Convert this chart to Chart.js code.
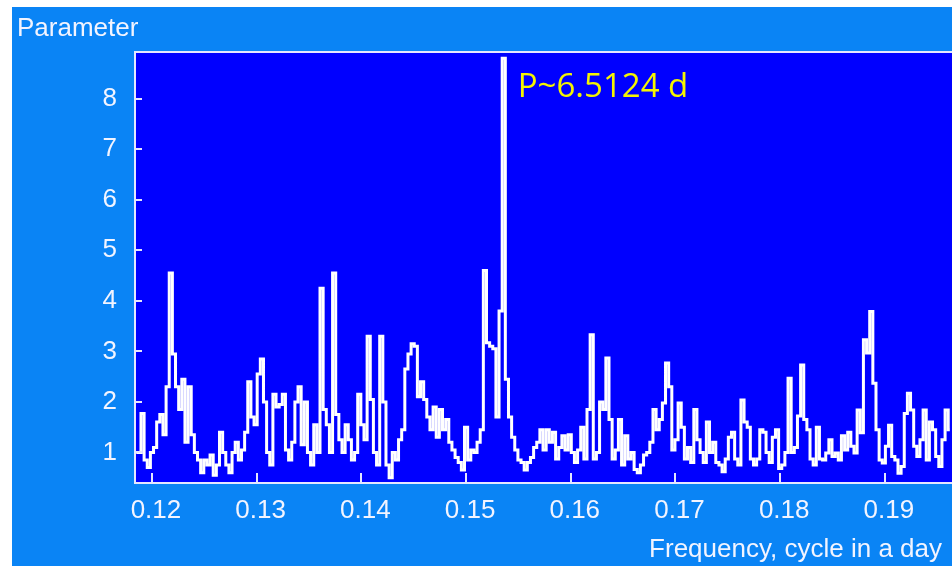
<!DOCTYPE html>
<html>
<head>
<meta charset="utf-8">
<script src="https://cdn.jsdelivr.net/npm/chart.js@4/dist/chart.umd.min.js"></script>
<style>
  html, body { margin: 0; padding: 0; background: #fff; }
  #wrap { position: absolute; left: 12px; top: 7px; width: 940px; height: 559px; background: #0a84f5; overflow: hidden; }
  canvas { display: block; }
</style>
</head>
<body>
<div id="wrap"><canvas id="c"></canvas></div>
<script>
// periodogram grid (cycles per day)
const F_START = 0.1185;
const F_STEP = 0.0003;
// power, one value per grid step
const POWER = [
  1.0, 1.0, 1.77, 0.85, 0.7, 1.0, 1.1, 1.6, 1.75, 1.35,
  2.3, 4.55, 2.95, 2.3, 1.85, 2.45, 1.2, 2.3, 1.35, 1.0,
  0.85, 0.6, 0.85, 0.75, 0.95, 0.55, 0.75, 1.4, 1.0, 0.75,
  0.6, 1.0, 1.2, 0.85, 1.05, 1.4, 2.4, 1.7, 1.55, 2.55,
  2.85, 2.0, 1.0, 0.75, 2.15, 1.9, 1.95, 2.15, 1.05, 0.85,
  1.2, 2.0, 2.3, 1.15, 2.0, 1.0, 0.75, 1.55, 1.0, 4.25,
  1.85, 1.55, 1.0, 4.55, 1.75, 1.25, 1.0, 1.55, 1.25, 0.85,
  1.0, 2.15, 1.55, 1.25, 3.3, 2.05, 1.0, 0.75, 3.3, 2.0,
  0.75, 0.5, 1.0, 0.85, 1.25, 1.45, 2.65, 2.95, 3.15, 3.1,
  2.1, 2.4, 2.05, 1.7, 1.45, 1.9, 1.3, 1.85, 1.45, 1.65,
  1.2, 1.05, 0.9, 0.8, 0.65, 1.5, 0.85, 1.05, 1.0, 1.2,
  1.45, 4.6, 3.17, 3.1, 3.05, 1.7, 3.8, 8.8, 2.45, 1.7,
  1.3, 1.05, 0.85, 0.8, 0.65, 0.8, 0.9, 1.1, 1.2, 1.45,
  1.05, 1.45, 1.2, 1.4, 0.87, 1.1, 1.33, 1.05, 1.35, 1.0,
  0.8, 1.05, 1.5, 0.87, 1.85, 3.33, 0.87, 1.0, 2.0, 1.85,
  2.87, 1.65, 0.87, 1.05, 1.65, 0.75, 1.33, 0.87, 1.0, 0.66,
  0.6, 0.75, 0.95, 1.0, 1.2, 1.85, 1.45, 1.65, 1.98, 2.77,
  2.3, 1.05, 1.25, 1.98, 1.5, 0.87, 1.1, 0.8, 1.85, 1.25,
  1.0, 0.8, 1.6, 1.0, 1.2, 0.8, 0.75, 0.62, 0.87, 1.3,
  1.4, 0.87, 0.75, 2.04, 1.6, 1.5, 0.87, 0.75, 0.87, 1.45,
  1.4, 1.0, 0.8, 1.3, 1.45, 0.68, 0.75, 1.0, 2.47, 1.0,
  1.1, 1.72, 2.73, 1.65, 1.45, 0.87, 0.75, 1.5, 0.87, 0.85,
  0.99, 1.25, 0.92, 0.99, 0.85, 1.33, 1.05, 1.4, 1.12, 0.99,
  1.84, 1.39, 3.23, 2.97, 3.79, 2.37, 1.45, 0.85, 0.79, 1.12,
  1.54, 0.92, 0.85, 0.59, 0.72, 1.77, 2.17, 1.84, 1.12, 0.92,
  1.25, 1.84, 0.85, 1.6, 1.45, 0.92, 0.72, 1.25, 1.84, 1.45
];
const X_TICKS = [0.12, 0.13, 0.14, 0.15, 0.16, 0.17, 0.18, 0.19];
const Y_TICKS = [1, 2, 3, 4, 5, 6, 7, 8];
const Y_TITLE = 'Parameter';
const X_TITLE = 'Frequency, cycle in a day';
const PEAK_LABEL = 'P~6.5124 d';
const PEAK_FREQ = 0.1536;

const PLOT_BG = '#0000ff';
const FRAME = '#e4e6ff';
const TEXT = '#f2f4ff';
const LABEL_FONT = "26px 'Liberation Sans', Arial, sans-serif";

const points = POWER.map((p, i) => ({ x: F_START + i * F_STEP, y: p }));

const framePlugin = {
  id: 'frame',
  beforeDatasetsDraw(chart) {
    const { ctx, chartArea: a } = chart;
    ctx.save();
    ctx.fillStyle = PLOT_BG;
    ctx.fillRect(a.left, a.top, a.right - a.left, a.bottom - a.top);
    ctx.restore();
  },
  afterDraw(chart) {
    const { ctx, chartArea: a, scales } = chart;
    ctx.save();
    ctx.strokeStyle = FRAME;
    ctx.lineWidth = 2;
    ctx.beginPath();
    ctx.moveTo(a.right + 2, a.top);
    ctx.lineTo(a.left, a.top);
    ctx.lineTo(a.left, a.bottom);
    ctx.lineTo(a.right + 2, a.bottom);
    ctx.stroke();
    // inward tick marks
    ctx.beginPath();
    X_TICKS.forEach(v => {
      const px = Math.round(scales.x.getPixelForValue(v));
      ctx.moveTo(px, a.bottom);
      ctx.lineTo(px, a.bottom - 10);
    });
    Y_TICKS.forEach(v => {
      const py = Math.round(scales.y.getPixelForValue(v));
      ctx.moveTo(a.left, py);
      ctx.lineTo(a.left + 7, py);
    });
    ctx.stroke();

    ctx.fillStyle = TEXT;
    ctx.font = LABEL_FONT;
    ctx.textBaseline = 'alphabetic';
    ctx.textAlign = 'left';
    ctx.fillText(Y_TITLE, 5, 29);
    ctx.textAlign = 'right';
    ctx.fillText(X_TITLE, 930, 550);

    ctx.fillStyle = '#f5f500';
    ctx.font = "33px 'Open Sans', 'Noto Sans', sans-serif";
    ctx.textAlign = 'left';
    ctx.fillText(PEAK_LABEL, scales.x.getPixelForValue(PEAK_FREQ) + 14, a.top + 45);
    ctx.restore();
  }
};

new Chart(document.getElementById('c'), {
  type: 'line',
  data: {
    datasets: [{
      data: points,
      borderColor: '#ffffff',
      borderWidth: 3,
      pointRadius: 0,
      stepped: 'middle',
      fill: false
    }]
  },
  options: {
    responsive: true,
    maintainAspectRatio: false,
    animation: false,
    events: [],
    layout: { padding: { top: 45, right: 0, left: 0, bottom: 0 } },
    plugins: { legend: { display: false }, tooltip: { enabled: false } },
    scales: {
      x: {
        type: 'linear',
        min: 0.11838,
        max: 0.19641,
        afterFit: s => { s.height = 83; },
        afterBuildTicks: s => { s.ticks = X_TICKS.map(v => ({ value: v })); },
        grid: { display: false, drawTicks: false },
        border: { display: false },
        ticks: {
          color: TEXT,
          font: { family: "'Liberation Sans', Arial, sans-serif", size: 26 },
          padding: 12,
          labelOffset: 4,
          maxRotation: 0,
          autoSkip: false,
          callback: v => v.toFixed(2)
        }
      },
      y: {
        min: 0.395,
        max: 8.925,
        afterFit: s => { s.width = 123; },
        afterBuildTicks: s => { s.ticks = Y_TICKS.map(v => ({ value: v })); },
        grid: { display: false, drawTicks: false },
        border: { display: false },
        ticks: {
          color: TEXT,
          font: { family: "'Liberation Sans', Arial, sans-serif", size: 26 },
          padding: 18,
          callback: v => String(v)
        }
      }
    }
  },
  plugins: [framePlugin]
});
</script>
</body>
</html>
